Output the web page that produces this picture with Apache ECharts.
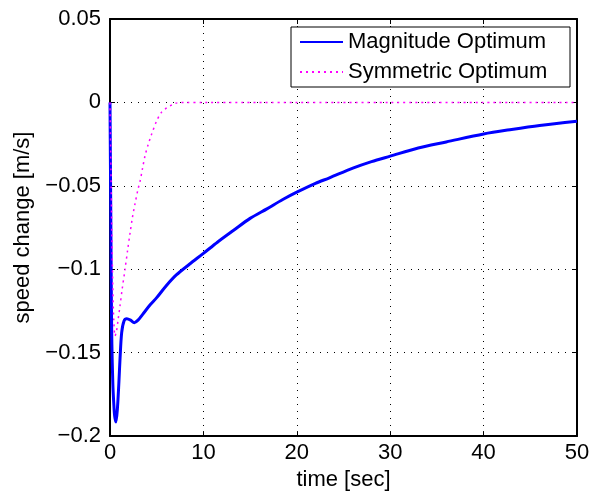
<!DOCTYPE html>
<html>
<head>
<meta charset="utf-8">
<script src="https://cdn.jsdelivr.net/npm/echarts@6/dist/echarts.min.js"></script>
<style>
html,body{margin:0;padding:0;background:#fff;}
#chart{width:599px;height:496px;}
</style>
</head>
<body>
<div id="chart"></div>
<script>
// Magnitude Optimum (blue solid)
var timeMO = [0, 0.05, 0.1, 0.15, 0.2, 0.3, 0.4, 0.5, 0.64, 0.8, 0.95, 1.07, 1.25, 1.5, 1.8, 2.2, 2.6, 3.0, 3.5, 4.3, 5, 6, 7.1, 8.5, 10, 11.5, 13.2, 15, 16.8, 18.5, 20, 22, 23.5, 26, 28, 30, 33, 36, 40, 43, 46, 50];
var valMO = [0, -0.04, -0.08, -0.12, -0.145, -0.168, -0.18, -0.188, -0.1915, -0.183, -0.168, -0.154, -0.138, -0.131, -0.1297, -0.1305, -0.132, -0.1305, -0.127, -0.1213, -0.117, -0.110, -0.1034, -0.097, -0.0905, -0.0838, -0.0768, -0.0695, -0.0638, -0.0582, -0.0538, -0.0485, -0.0452, -0.0394, -0.0355, -0.0322, -0.0273, -0.0237, -0.0189, -0.0162, -0.0138, -0.0113];
// Symmetric Optimum (magenta dotted)
var timeSO = [0, 0.1, 0.2, 0.3, 0.4, 0.54, 0.7, 0.85, 1.07, 1.3, 1.6, 1.9, 2.14, 2.4, 2.68, 3.0, 3.2, 3.5, 3.75, 4.1, 4.46, 5.0, 5.5, 5.9, 6.4, 7.0, 8, 10, 20, 30, 40, 50];
var valSO = [0, -0.04, -0.08, -0.11, -0.13, -0.14, -0.137, -0.131, -0.122, -0.112, -0.1004, -0.088, -0.0786, -0.069, -0.0607, -0.052, -0.0478, -0.039, -0.032, -0.025, -0.019, -0.011, -0.006, -0.004, -0.0022, -0.0005, 0, 0, 0, 0, 0, 0];

var seriesNames = ['Magnitude Optimum', 'Symmetric Optimum'];
var xName = 'time [sec]';
var yName = 'speed change [m/s]';

function pairs(t, v) { return t.map(function (x, i) { return [x, v[i]]; }); }
function fmtY(v) {
  var r = Math.round(v * 100) / 100;
  if (Math.abs(r) < 1e-9) return '0';
  var s = String(Math.abs(r));
  return (r < 0 ? '\u2212' : '') + s;
}

var FONT = 'Liberation Sans, Arial, Helvetica, sans-serif';
var chart = echarts.init(document.getElementById('chart'), null, {renderer: 'canvas'});
var gridLine = {show: true, lineStyle: {color: '#000', width: 1, type: [1, 6]}};
var option = {
  animation: false,
  backgroundColor: '#fff',
  grid: {left: 110, right: 22, top: 19, bottom: 57, containLabel: false},
  legend: {
    orient: 'vertical', left: 291, top: 27,
    itemWidth: 43, itemHeight: 12, itemGap: 6,
    padding: [3, 8, 3, 8],
    borderColor: '#000', borderWidth: 1, backgroundColor: '#fff',
    itemStyle: {opacity: 0},
    textStyle: {fontFamily: FONT, fontSize: 22, color: '#000', lineHeight: 24, width: 214},
    data: seriesNames
  },
  xAxis: [{
    type: 'value', min: 0, max: 50, interval: 10,
    name: xName, nameLocation: 'middle', nameGap: 23,
    nameTextStyle: {fontFamily: FONT, fontSize: 22, color: '#000'},
    axisLine: {show: true, onZero: false, lineStyle: {color: '#000', width: 2}},
    axisTick: {show: true, inside: true, length: 5, lineStyle: {color: '#000', width: 1}},
    axisLabel: {fontFamily: FONT, fontSize: 22, color: '#000', margin: 6},
    splitLine: gridLine
  }, {
    type: 'value', min: 0, max: 50, interval: 10, position: 'top',
    axisLine: {show: true, onZero: false, lineStyle: {color: '#000', width: 2}},
    axisTick: {show: true, inside: true, length: 5, lineStyle: {color: '#000', width: 1}},
    axisLabel: {show: false}, splitLine: {show: false}
  }],
  yAxis: [{
    type: 'value', min: -0.2, max: 0.05, interval: 0.05,
    name: yName, nameLocation: 'middle', nameGap: 65, nameRotate: 90,
    nameTextStyle: {fontFamily: FONT, fontSize: 22, color: '#000'},
    axisLine: {show: true, onZero: false, lineStyle: {color: '#000', width: 2}},
    axisTick: {show: true, inside: true, length: 5, lineStyle: {color: '#000', width: 1}},
    axisLabel: {fontFamily: FONT, fontSize: 22, color: '#000', margin: 9, formatter: fmtY},
    splitLine: gridLine
  }, {
    type: 'value', min: -0.2, max: 0.05, interval: 0.05, position: 'right',
    axisLine: {show: true, onZero: false, lineStyle: {color: '#000', width: 2}},
    axisTick: {show: true, inside: true, length: 5, lineStyle: {color: '#000', width: 1}},
    axisLabel: {show: false}, splitLine: {show: false}
  }],
  series: [{
    name: seriesNames[0], type: 'line', data: pairs(timeMO, valMO),
    showSymbol: false, symbol: 'none', smooth: 0.3,
    lineStyle: {color: '#0000ff', width: 3},
    itemStyle: {color: '#0000ff'}, z: 3
  }, {
    name: seriesNames[1], type: 'line', data: pairs(timeSO, valSO),
    showSymbol: false, symbol: 'none', smooth: 0.3,
    lineStyle: {color: '#ff00ff', width: 1.5, type: [2, 4]},
    itemStyle: {color: '#ff00ff'}, z: 4
  }]
};
chart.setOption(option);
</script>
</body>
</html>
